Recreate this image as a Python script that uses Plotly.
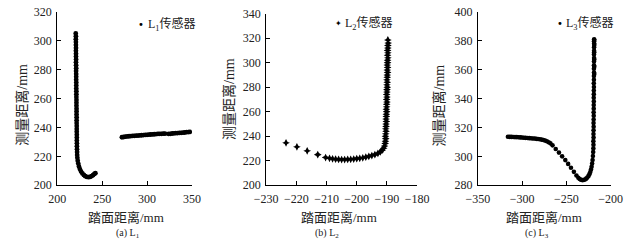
import plotly.graph_objects as go

W, H = 639, 247

# ---------------- data: L1 sensor ----------------
l1_x = [220.6, 220.8, 220.7, 220.8, 220.8, 220.9, 220.8, 220.9, 220.9, 221.0,
        220.9, 221.0, 221.1, 221.0, 221.1, 221.1, 221.1, 221.2, 221.2, 221.2,
        221.3, 221.3, 221.3, 221.4, 221.4, 221.4, 221.5, 221.5, 221.5, 221.6,
        221.6, 221.6, 221.7, 221.7, 221.7, 221.8, 221.8, 221.8, 221.9, 221.9,
        222.0, 222.1, 222.2,
        222.4, 222.8, 223.4, 224.2, 225.2, 226.5, 228.0, 229.6, 231.2, 233.0,
        234.8, 236.5, 238.2, 239.8, 241.3, 242.5,
        272.0, 274.0, 276.0, 278.0, 280.0, 282.0, 284.0, 286.0, 288.0, 290.0,
        292.0, 294.0, 296.0, 298.0, 300.0, 302.0, 304.0, 306.0, 308.0, 310.0,
        312.0, 314.0, 316.0, 318.0, 320.0, 324.0, 326.0, 328.0, 330.0, 332.0,
        334.0, 336.0, 338.0, 340.0, 342.0, 344.0, 346.0, 347.5]
l1_y = [305.0, 303.0, 301.0, 299.0, 297.0, 295.0, 293.0, 291.0, 289.0, 287.0,
        285.0, 283.0, 281.0, 279.0, 277.0, 275.0, 273.0, 271.0, 269.0, 267.0,
        265.0, 263.0, 261.0, 259.0, 257.0, 255.0, 253.0, 251.0, 249.0, 247.0,
        245.0, 243.0, 241.0, 239.0, 237.0, 235.0, 233.0, 231.0, 229.0, 227.0,
        225.0, 223.0, 221.0,
        219.0, 217.0, 215.0, 213.0, 211.2, 209.6, 208.2, 207.1, 206.3, 205.8,
        205.6, 205.8, 206.3, 207.0, 207.8, 208.4,
        233.2, 233.4, 233.6, 233.8, 233.9, 234.0, 234.1, 234.2, 234.3, 234.4,
        234.5, 234.6, 234.7, 234.8, 234.9, 235.0, 235.1, 235.2, 235.3, 235.4,
        235.5, 235.6, 235.6, 235.7, 235.7, 235.5, 235.6, 235.8, 235.9, 236.0,
        236.1, 236.2, 236.3, 236.4, 236.5, 236.7, 236.8, 236.9]

# ---------------- data: L2 sensor ----------------
l2_x = [-223.4, -219.8, -216.4, -212.9, -210.3,
        -209.0, -208.0, -207.0, -206.0, -205.0, -204.0, -203.0, -202.0, -201.0,
        -200.0, -199.0, -198.0, -197.0, -196.0, -195.0, -194.0, -193.0, -192.2,
        -191.6, -191.1, -190.8, -190.6,
        -190.5, -190.4, -190.5, -190.4, -190.3, -190.4, -190.3, -190.3, -190.2,
        -190.3, -190.2, -190.2, -190.1, -190.2, -190.1, -190.1, -190.0, -190.1,
        -190.0, -190.1, -190.0, -190.0, -189.9, -190.0, -189.9, -190.0, -189.9,
        -189.9, -189.8, -189.9, -189.8, -189.9, -189.8, -189.8, -189.7, -189.8,
        -189.7, -189.8, -189.7, -189.7, -189.6, -189.7]
l2_y = [234.6, 231.4, 228.1, 225.0, 222.6,
        222.0, 221.6, 221.3, 221.1, 221.0, 221.0, 221.1, 221.2, 221.4,
        221.7, 222.0, 222.4, 222.9, 223.5, 224.2, 225.0, 226.0, 227.2,
        228.6, 230.2, 232.0, 234.0,
        236.0, 238.0, 240.0, 242.0, 244.0, 246.0, 248.0, 250.0, 252.0,
        254.0, 256.0, 258.0, 260.0, 262.0, 264.0, 266.0, 268.0, 270.0,
        272.0, 274.0, 276.0, 278.0, 280.0, 282.0, 284.0, 286.0, 288.0,
        290.0, 292.0, 294.0, 296.0, 298.0, 300.0, 302.0, 304.0, 306.0,
        308.0, 310.0, 312.0, 314.0, 316.0, 318.5]

# ---------------- data: L3 sensor ----------------
l3_x = [-316.0, -314.0, -312.0, -310.0, -308.0, -306.0, -304.0, -302.0, -300.0,
        -298.0, -296.0, -294.0, -292.0, -290.0, -288.0, -286.0, -284.0, -282.0,
        -280.0, -278.0, -276.0, -274.0, -272.0, -270.0, -268.0,
        -265.6, -262.0, -258.4, -254.8, -251.2, -248.0, -244.8, -241.5, -238.6,
        -236.5, -235.0, -233.5, -232.0, -230.5, -229.0, -227.6, -226.3, -225.0,
        -224.0, -223.0, -222.2, -221.5, -220.9, -220.4, -220.0, -219.7,
        -219.5, -219.4, -219.5, -219.3, -219.4, -219.3, -219.2, -219.3, -219.2,
        -219.1, -219.2, -219.1, -219.1, -219.0, -219.1, -219.0, -219.0, -218.9,
        -219.0, -218.9, -218.9, -218.8, -218.9, -218.8, -218.8, -218.7, -218.8,
        -218.7, -218.7, -218.6, -218.7, -218.6, -218.6, -218.5, -218.6, -218.5,
        -218.5, -218.5]
l3_y = [313.6, 313.5, 313.5, 313.4, 313.3, 313.3, 313.2, 313.1, 313.0,
        312.9, 312.8, 312.7, 312.6, 312.5, 312.4, 312.3, 312.1, 312.0,
        311.8, 311.6, 311.3, 310.9, 310.4, 309.8, 309.0,
        307.6, 305.1, 302.6, 300.0, 297.4, 294.8, 292.1, 289.3, 286.8,
        285.2, 284.3, 283.8, 283.6, 283.7, 284.0, 284.6, 285.4, 286.5,
        287.7, 289.2, 290.9, 292.8, 295.0, 297.5, 300.2, 303.0,
        305.5, 308.0, 310.5, 313.0, 315.5, 318.0, 320.5, 323.0, 325.5,
        328.0, 330.5, 333.0, 335.5, 338.0, 340.5, 343.0, 345.5, 348.0,
        350.5, 353.0, 355.5, 358.0, 360.5, 363.0, 365.5, 368.0, 370.5,
        373.0, 375.5, 378.0, 379.5, 380.5, 381.0, 377.0, 372.0, 367.0,
        362.0, 357.0]

# axis settings
x_ranges = [[200, 350], [-230, -180], [-350, -200]]
x_dticks = [50, 10, 50]
y_ranges = [[200, 320], [200, 340], [280, 400]]
y_dtick = 20
x_title = "踏面距离/mm"
y_title = "测量距离/mm"
captions = ["(a) L<sub>1</sub>", "(b) L<sub>2</sub>", "(c) L<sub>3</sub>"]
legend_labels = ["L<sub>1</sub>传感器", "L<sub>2</sub>传感器", "L<sub>3</sub>传感器"]

FONT = "Liberation Serif, 'Times New Roman', 'Noto Sans CJK SC', serif"
TXT = "#222222"

# pixel layout of the three panels (left, right, top, bottom)
panels = [(47, 187, 5, 189), (264, 421, 7, 189), (484, 622, 5, 189)]

fig = go.Figure()

datasets = [(l1_x, l1_y, "circle", 4.8), (l2_x, l2_y, "star-diamond", 5.5), (l3_x, l3_y, "circle", 4.6)]
for i, (xs, ys, sym, sz) in enumerate(datasets):
    k = "" if i == 0 else str(i + 1)
    fig.add_trace(go.Scatter(x=xs, y=ys, mode="markers", xaxis="x" + k, yaxis="y" + k,
                             marker=dict(symbol=sym, size=sz, color="black", line=dict(width=0)),
                             showlegend=False))

layout = dict(width=W, height=H, margin=dict(l=0, r=0, t=0, b=0),
              paper_bgcolor="white", plot_bgcolor="white",
              font=dict(family=FONT, size=12, color=TXT), showlegend=False)

annotations = []
for i, (l, r, t, b) in enumerate(panels):
    k = "" if i == 0 else str(i + 1)
    layout["xaxis" + k] = dict(domain=[l / W, r / W], anchor="y" + k, range=x_ranges[i],
                               dtick=x_dticks[i], ticks="inside", ticklen=4, tickcolor="black",
                               showline=True, linecolor="black", linewidth=1,
                               showgrid=False, zeroline=False, ticklabelstandoff=2,
                               tickfont=dict(family=FONT, size=12, color=TXT))
    layout["yaxis" + k] = dict(domain=[1 - b / H, 1 - t / H], anchor="x" + k, range=y_ranges[i],
                               dtick=y_dtick, ticks="inside", ticklen=4, tickcolor="black",
                               showline=True, linecolor="black", linewidth=1,
                               showgrid=False, zeroline=False, ticklabelstandoff=2,
                               tickfont=dict(family=FONT, size=12, color=TXT))

x_title_cx = [118, 340, 553]
y_title_px = [10, 226, 444]
y_title_cy = [104, 98, 104]
cap_cx = [121, 327, 545]
leg_x = [134, 339, 569]
leg_y = [19, 18, 17]
leg_sym = ["•", "✦", "•"]

for i in range(3):
    annotations.append(dict(text=x_title, x=x_title_cx[i] / W, y=1 - 223 / H, xref="paper", yref="paper",
                            showarrow=False, xanchor="center", yanchor="middle",
                            font=dict(family=FONT, size=13, color=TXT)))
    annotations.append(dict(text=y_title, x=y_title_px[i] / W, y=1 - y_title_cy[i] / H,
                            xref="paper", yref="paper", showarrow=False, textangle=-90,
                            xanchor="center", yanchor="middle",
                            font=dict(family=FONT, size=14, color=TXT)))
    annotations.append(dict(text=captions[i], x=cap_cx[i] / W, y=1 - 240 / H, xref="paper", yref="paper",
                            showarrow=False, xanchor="center", yanchor="middle",
                            font=dict(family=FONT, size=10, color=TXT)))
    annotations.append(dict(text=leg_sym[i], x=leg_x[i] / W, y=1 - leg_y[i] / H, xref="paper", yref="paper",
                            showarrow=False, xanchor="center", yanchor="middle",
                            font=dict(family="DejaVu Sans", size=8 if i == 1 else 10, color="black")))
    annotations.append(dict(text=legend_labels[i], x=(leg_x[i] + 5) / W, y=1 - leg_y[i] / H,
                            xref="paper", yref="paper", showarrow=False,
                            xanchor="left", yanchor="middle",
                            font=dict(family=FONT, size=12, color=TXT)))

layout["annotations"] = annotations
fig.update_layout(**layout)
fig.write_html("out.html")
